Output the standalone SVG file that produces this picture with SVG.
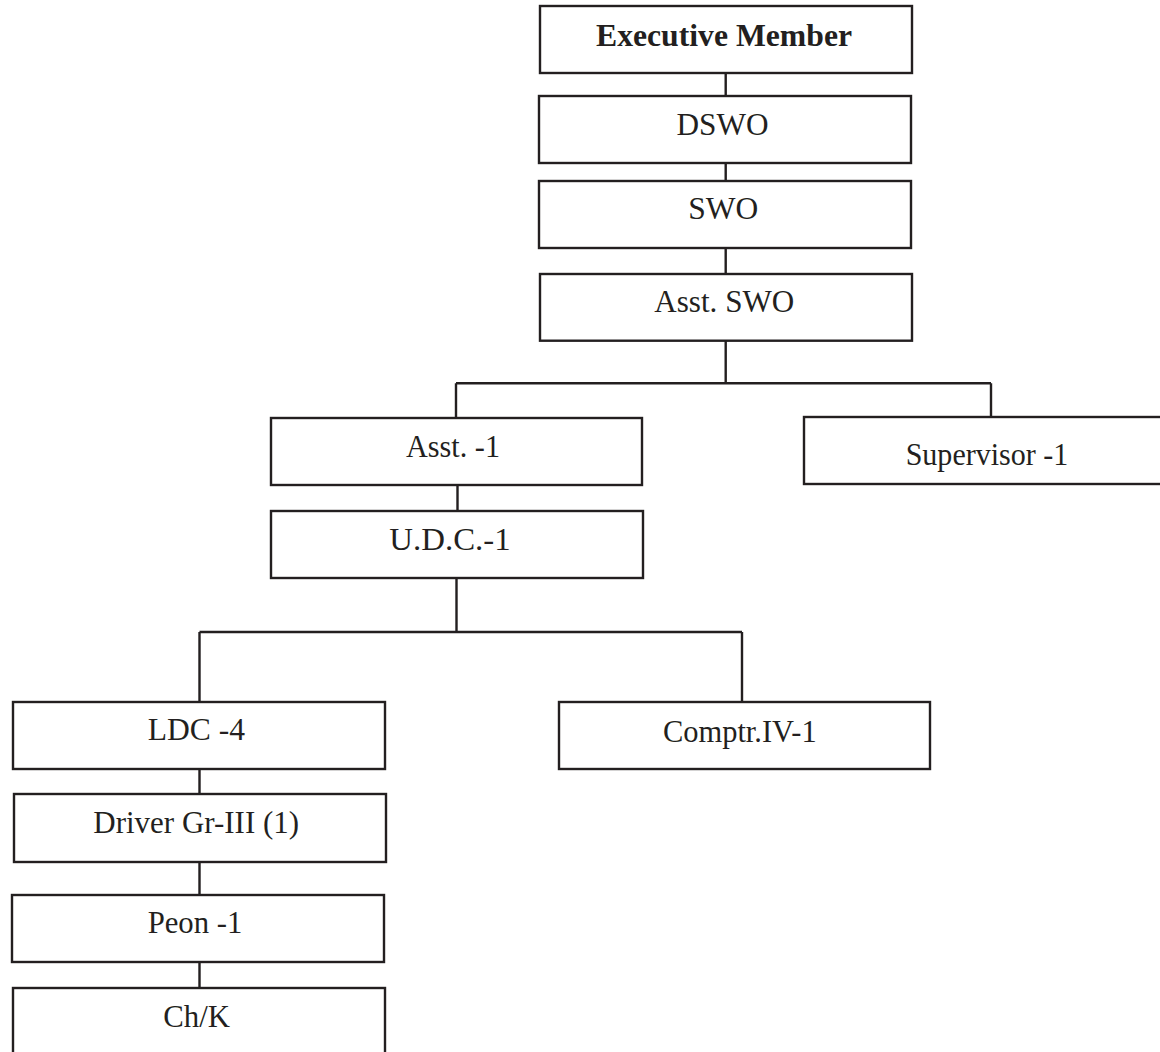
<svg xmlns="http://www.w3.org/2000/svg" width="1160" height="1052" viewBox="0 0 1160 1052">
  <style>
    .box { fill: #ffffff; stroke: #231f20; stroke-width: 2.4; }
    .link { fill: none; stroke: #231f20; stroke-width: 2.4; }
    .lbl { font-family: "Liberation Serif", "Times New Roman", serif; font-size: 32px; fill: #231f20; text-anchor: middle; }
    .bold { font-weight: bold; }
  </style>
  <rect width="1160" height="1052" fill="#ffffff"/>

  <!-- reporting lines -->
  <g id="connectors">
    <path class="link" d="M725.7 73V96M725.7 163V181M725.7 248V274M725.7 340.7V383.3"/>
    <path class="link" d="M456 383.3H991M456 383.3V418M991 383.3V417"/>
    <path class="link" d="M457.5 485V511M456.5 578V632"/>
    <path class="link" d="M199.5 632H742M199.5 632V702M742 632V702"/>
    <path class="link" d="M199.5 769V794M199.5 862V895M199.5 962V988"/>
  </g>

  <g id="executive-member">
    <rect class="box" x="540" y="6" width="372" height="67"/>
    <text class="lbl bold" x="724" y="45.7" textLength="256" lengthAdjust="spacingAndGlyphs">Executive Member</text>
  </g>
  <g id="dswo">
    <rect class="box" x="539" y="96" width="372" height="67"/>
    <text class="lbl" x="722.5" y="135" textLength="92" lengthAdjust="spacingAndGlyphs">DSWO</text>
  </g>
  <g id="swo">
    <rect class="box" x="539" y="181" width="372" height="67"/>
    <text class="lbl" x="723.3" y="219.3" textLength="70" lengthAdjust="spacingAndGlyphs">SWO</text>
  </g>
  <g id="asst-swo">
    <rect class="box" x="540" y="274" width="372" height="66.7"/>
    <text class="lbl" x="724.3" y="312.3" textLength="140" lengthAdjust="spacingAndGlyphs">Asst. SWO</text>
  </g>
  <g id="asst-1">
    <rect class="box" x="271" y="418" width="371" height="67"/>
    <text class="lbl" x="453" y="457.3" textLength="94" lengthAdjust="spacingAndGlyphs">Asst. -1</text>
  </g>
  <g id="supervisor-1">
    <rect class="box" x="804" y="417" width="372" height="67"/>
    <text class="lbl" x="987" y="465" textLength="162.7" lengthAdjust="spacingAndGlyphs">Supervisor -1</text>
  </g>
  <g id="udc-1">
    <rect class="box" x="271" y="511" width="372" height="67"/>
    <text class="lbl" x="450" y="550" textLength="121.3" lengthAdjust="spacingAndGlyphs">U.D.C.-1</text>
  </g>
  <g id="ldc-4">
    <rect class="box" x="13" y="702" width="372" height="67"/>
    <text class="lbl" x="196.3" y="740" textLength="97.3" lengthAdjust="spacingAndGlyphs">LDC -4</text>
  </g>
  <g id="comptr-iv-1">
    <rect class="box" x="559" y="702" width="371" height="67"/>
    <text class="lbl" x="739.8" y="741.7" textLength="153.7" lengthAdjust="spacingAndGlyphs">Comptr.IV-1</text>
  </g>
  <g id="driver-gr-iii">
    <rect class="box" x="14" y="794" width="372" height="68"/>
    <text class="lbl" x="196.2" y="833.3" textLength="205.7" lengthAdjust="spacingAndGlyphs">Driver Gr-III (1)</text>
  </g>
  <g id="peon-1">
    <rect class="box" x="12" y="895" width="372" height="67"/>
    <text class="lbl" x="195" y="933.3" textLength="94.7" lengthAdjust="spacingAndGlyphs">Peon -1</text>
  </g>
  <g id="ch-k">
    <rect class="box" x="13" y="988" width="372" height="72"/>
    <text class="lbl" x="196.7" y="1026.7" textLength="66.7" lengthAdjust="spacingAndGlyphs">Ch/K</text>
  </g>
</svg>
